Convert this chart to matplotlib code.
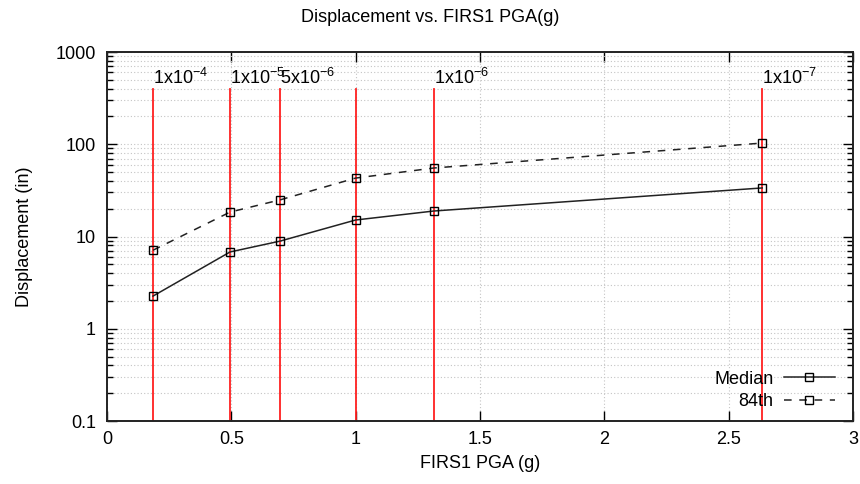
import matplotlib
matplotlib.use('Agg')
import matplotlib.pyplot as plt
from matplotlib.ticker import LogLocator, FixedLocator, NullFormatter, FuncFormatter

plt.rcParams['font.family'] = ['Liberation Sans', 'DejaVu Sans']
plt.rcParams['mathtext.fontset'] = 'custom'
plt.rcParams['mathtext.rm'] = 'Liberation Sans'
plt.rcParams['mathtext.it'] = 'Liberation Sans'

# data
pga = [0.185, 0.495, 0.695, 1.0, 1.315, 2.635]
median = [2.26, 6.8, 8.9, 15.1, 18.9, 33.6]
p84 = [7.1, 18.4, 24.9, 43.0, 55.3, 103.0]
rate_labels = ['1x10$^{-4}$', '1x10$^{-5}$', '5x10$^{-6}$', '', '1x10$^{-6}$', '1x10$^{-7}$']
line_top = 400

fs = 13

fig = plt.figure(figsize=(8.6, 4.84), dpi=100)
ax = fig.add_axes([107/860, 1 - 421/484, (853-107)/860, (421-52)/484])

# red lines for hazard levels
for x, lab in zip(pga, rate_labels):
    ax.plot([x, x], [0.1, line_top], color='#ff2020', lw=1.3, zorder=2)
    if lab:
        ax.text(x, line_top * 1.02, lab, fontsize=fs, ha='left', va='bottom')

ax.plot(pga, median, color='#222222', lw=1.1, marker='s', ms=6, mfc='none',
        mec='black', mew=1.0, label='Median', zorder=3)
ax.plot(pga, p84, color='#222222', lw=1.1, ls=(0, (5, 5)), marker='s', ms=6,
        mfc='none', mec='black', mew=1.0, label='84th', zorder=3)

ax.set_yscale('log')
ax.set_xlim(0, 3)
ax.set_ylim(0.1, 1000)
ax.xaxis.set_major_locator(FixedLocator([0, 0.5, 1, 1.5, 2, 2.5, 3]))
ax.xaxis.set_major_formatter(FuncFormatter(lambda v, p: '%g' % v))
ax.yaxis.set_major_locator(LogLocator(base=10, numticks=10))
ax.yaxis.set_minor_locator(LogLocator(base=10, subs=range(2, 10), numticks=10))
ax.yaxis.set_major_formatter(FuncFormatter(lambda v, p: '%g' % v))
ax.yaxis.set_minor_formatter(NullFormatter())

ax.grid(True, which='major', axis='both', color='#c4c4c4', ls=(0, (1, 2)), lw=0.8)
ax.grid(True, which='minor', axis='y', color='#c4c4c4', ls=(0, (1, 2)), lw=0.8)
ax.tick_params(which='both', direction='in', top=True, right=True, labelsize=fs)
ax.tick_params(which='major', length=7, width=1)
ax.tick_params(which='minor', length=4, width=1)
ax.tick_params(axis='x', pad=7)
ax.tick_params(axis='y', pad=8)
for s in ax.spines.values():
    s.set_linewidth(1.4)
    s.set_color('#222222')

ax.set_xlabel('FIRS1 PGA (g)', fontsize=fs, labelpad=5)
ax.set_ylabel('Displacement (in)', fontsize=fs, labelpad=16)
fig.text(0.5, 1 - 18/484, 'Displacement vs. FIRS1 PGA(g)', ha='center', va='center', fontsize=fs)

ax.legend(loc='lower right', frameon=False, markerfirst=False, fontsize=fs,
          handlelength=2.8, handletextpad=0.6, labelspacing=0.3,
          borderaxespad=0.2, bbox_to_anchor=(0.99, 0.0))

fig.savefig('out.png', dpi=100)
